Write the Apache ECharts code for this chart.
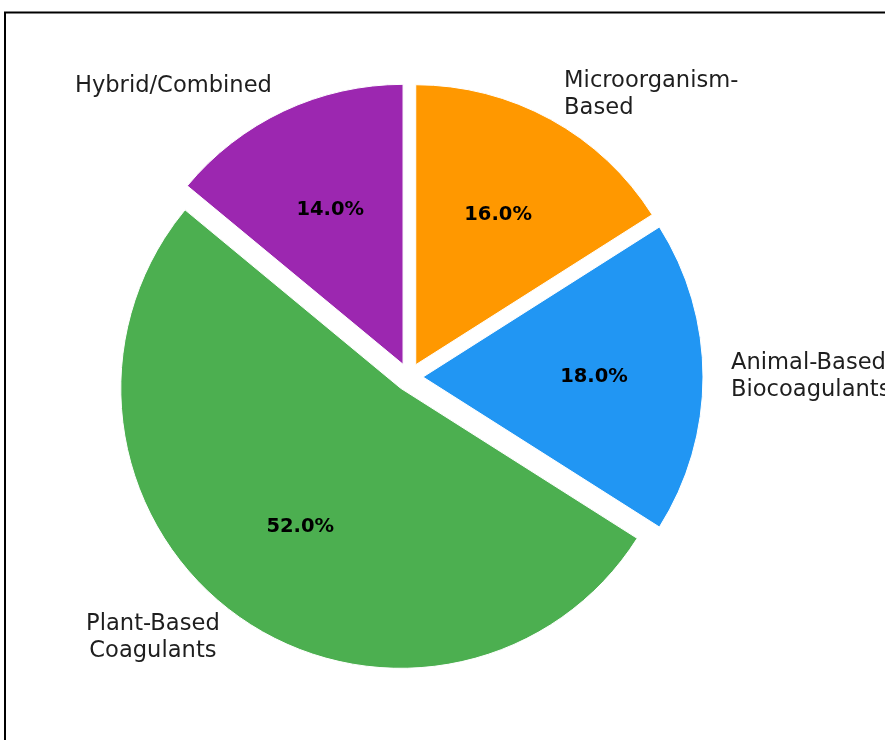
<!DOCTYPE html>
<html>
<head>
<meta charset="utf-8">
<script src="https://cdn.jsdelivr.net/npm/echarts@6/dist/echarts.min.js"></script>
<style>
    html, body { margin: 0; padding: 0; background: #fff; }
    #main { width: 885px; height: 740px; }
</style>
</head>
<body>
<div id="main"></div>
<script>
// slices, clockwise from 12 o'clock
var categories = ['Microorganism-\nBased', 'Animal-Based\nBiocoagulants', 'Plant-Based\nCoagulants', 'Hybrid/Combined'];
var shares = [16, 18, 52, 14];
var palette = ['#FF9800', '#2196F3', '#4CAF50', '#9C27B0'];

var chart = echarts.init(document.getElementById('main'));

var cx = 409, cy = 377, R = 280, explode = 14;

function buildData(transparent) {
    var out = [];
    for (var i = 0; i < categories.length; i++) {
        var col = transparent ? 'rgba(0,0,0,0)' : palette[i];
        out.push({
            name: categories[i],
            value: shares[i],
            selected: true,
            itemStyle: {color: col},
            select: {itemStyle: {color: col}}
        });
    }
    return out;
}

var labelFont = {fontFamily: 'DejaVu Sans', fontSize: 22.6, lineHeight: 27, color: '#1e1e1e'};

var option = {
    animation: false,
    graphic: [
        {
            type: 'rect',
            shape: {x: 5, y: 12.5, width: 1000, height: 1000},
            style: {fill: 'none', stroke: '#000', lineWidth: 2},
            silent: true
        }
    ],
    series: [
        {
            name: 'slices',
            type: 'pie',
            center: [cx, cy],
            radius: [0, R],
            startAngle: 90,
            clockwise: true,
            selectedMode: 'multiple',
            selectedOffset: explode,
            avoidLabelOverlap: false,
            itemStyle: {borderColor: '#fff', borderWidth: 1},
            label: {
                show: true,
                position: 'outside',
                alignTo: 'none',
                distanceToLabelLine: 0,
                fontFamily: labelFont.fontFamily,
                fontSize: labelFont.fontSize,
                lineHeight: labelFont.lineHeight,
                color: labelFont.color,
                formatter: function (p) {
                    // left-side two-line labels are centred line by line
                    if (p.dataIndex === 2) {
                        return p.name.split('\n').map(function (s) { return '{c|' + s + '}'; }).join('\n');
                    }
                    return p.name;
                },
                rich: {
                    c: {
                        align: 'center',
                        fontFamily: labelFont.fontFamily,
                        fontSize: labelFont.fontSize,
                        lineHeight: labelFont.lineHeight,
                        color: labelFont.color
                    }
                }
            },
            labelLine: {show: false, length: R * 0.1, length2: 0},
            emphasis: {disabled: true},
            data: buildData(false)
        },
        {
            name: 'pct',
            type: 'pie',
            center: [cx, cy],
            radius: [0, R * 1.2],
            startAngle: 90,
            clockwise: true,
            selectedMode: 'multiple',
            selectedOffset: explode,
            silent: true,
            z: 5,
            label: {
                show: true,
                position: 'inside',
                fontFamily: 'DejaVu Sans',
                fontWeight: 'bold',
                fontSize: 19.5,
                color: '#000',
                formatter: function (p) {
                    return p.percent.toFixed(1) + '%';
                }
            },
            labelLine: {show: false},
            emphasis: {disabled: true},
            data: buildData(true)
        }
    ]
};

chart.setOption(option);
</script>
</body>
</html>
